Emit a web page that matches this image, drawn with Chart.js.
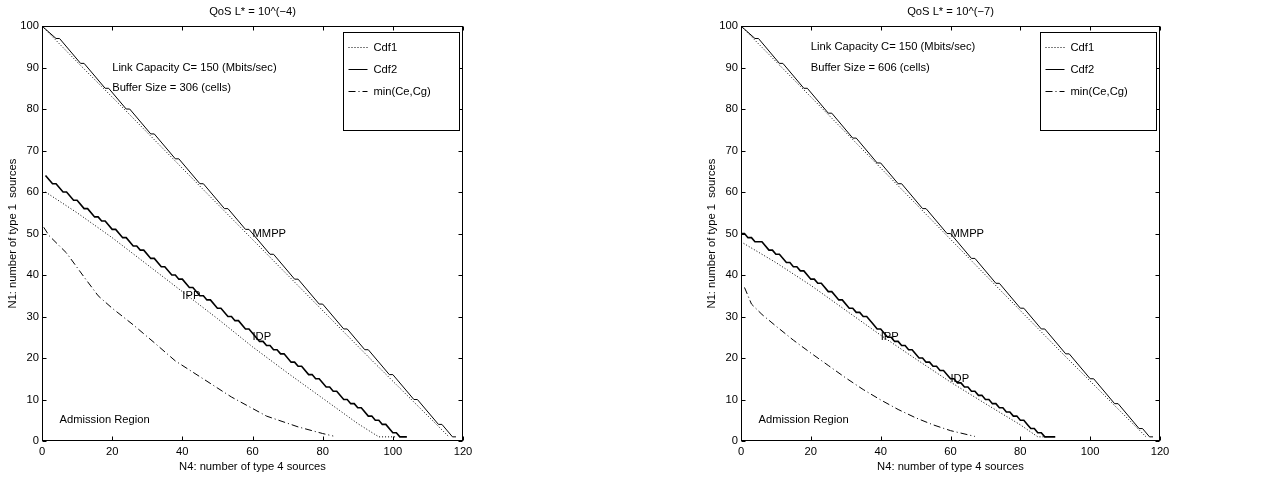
<!DOCTYPE html>
<html>
<head>
<meta charset="utf-8">
<title>Admission region</title>
<script src="https://cdn.jsdelivr.net/npm/chart.js@4.4.0/dist/chart.umd.min.js"></script>
<style>
    html, body { margin: 0; padding: 0; background: #fff; }
    #wrap { position: relative; width: 1281px; height: 480px; overflow: hidden; }
    #chartL { position: absolute; left: 0; top: 0; }
    #chartR { position: absolute; left: 640px; top: 0; }
</style>
</head>
<body>
<div id="wrap">
    <canvas id="chartL" width="640" height="480"></canvas>
    <canvas id="chartR" width="641" height="480"></canvas>
</div>
<script>
(function() {
    'use strict';

    // Axis ticks
    const n4Ticks = [0, 20, 40, 60, 80, 100, 120];
    const n1Ticks = [0, 10, 20, 30, 40, 50, 60, 70, 80, 90, 100];

    const legendLabels = ['Cdf1', 'Cdf2', 'min(Ce,Cg)'];

    // ---- QoS L* = 10^(-4), buffer 306 cells: [N4, N1] points ----
    const mmppCdf1A = [[0, 100], [11, 90.5], [24, 79.5], [47, 59.7], [70, 40], [93, 20.3], [116, 1]];
    const mmppCdf2A = [[0, 100], [4, 97], [5, 97], [11, 91], [12, 91], [18, 85], [19, 85], [24, 80], [25, 80],
        [31, 74], [32, 74], [38, 68], [39, 68], [45, 62], [46, 62], [52, 56], [53, 56], [58, 51], [59, 51],
        [65, 45], [66, 45], [72, 39], [73, 39], [79, 33], [80, 33], [86, 27], [87, 27], [92, 22], [93, 22],
        [99, 16], [100, 16], [106, 10], [107, 10], [113, 4], [114, 4], [117, 1], [118, 1]];
    const ippCdf1A = [[1, 60], [10, 55], [20, 49], [30, 42.5], [40, 36], [50, 29.5], [60, 22.7], [70, 16.4],
        [80, 10.3], [90, 4.2], [96, 1], [101, 1]];
    const ippCdf2A = [[1, 64], [3, 62], [4, 62], [6, 60], [7, 60], [9, 58], [10, 58], [12, 56], [13, 56],
        [15, 54], [16, 54], [17, 53], [18, 53], [20, 51], [21, 51], [23, 49], [24, 49], [26, 47], [27, 47],
        [28, 46], [29, 46], [31, 44], [32, 44], [34, 42], [35, 42], [37, 40], [38, 40], [39, 39], [40, 39],
        [42, 37], [43, 37], [45, 35], [46, 35], [47, 34], [48, 34], [50, 32], [51, 32], [53, 30], [54, 30],
        [55, 29], [56, 29], [58, 27], [59, 27], [62, 24], [63, 24], [64, 23], [65, 23], [66, 22], [67, 22],
        [68, 21], [69, 21], [71, 19], [72, 19], [73, 18], [74, 18], [76, 16], [77, 16], [78, 15], [79, 15],
        [81, 13], [82, 13], [83, 12], [84, 12], [86, 10], [87, 10], [88, 9], [89, 9], [90, 8], [91, 8],
        [93, 6], [94, 6], [95, 5], [96, 5], [97, 4], [98, 4], [100, 2], [101, 2], [102, 1], [104, 1]];
    const minCeCgA = [[0.5, 51.5], [2, 49.5], [7, 45.3], [12, 39.5], [16, 35], [20, 32], [26, 28], [32, 23.7],
        [38, 19.3], [45, 15.5], [54, 10.6], [64, 6], [73, 3.4], [80, 1.8], [83, 1.2]];

    // ---- QoS L* = 10^(-7), buffer 606 cells ----
    const mmppCdf1B = [[0, 100], [11, 90.6], [24, 79.5], [47, 59.8], [70, 40], [93, 20.3], [116, 1]];
    const mmppCdf2B = [[0, 100], [4, 97], [5, 97], [11, 91], [12, 91], [18, 85], [19, 85], [25, 79], [26, 79],
        [32, 73], [33, 73], [39, 67], [40, 67], [45, 62], [46, 62], [52, 56], [53, 56], [59, 50], [60, 50],
        [66, 44], [67, 44], [73, 38], [74, 38], [80, 32], [81, 32], [86, 27], [87, 27], [93, 21], [94, 21],
        [100, 15], [101, 15], [107, 9], [108, 9], [114, 3], [115, 3], [117, 1], [118, 1]];
    const ippCdf1B = [[0, 48], [10, 43], [20, 37.5], [30, 31.5], [40, 25.5], [50, 19.8], [60, 14.2], [70, 9],
        [80, 3.9], [85, 1], [88, 1]];
    const ippCdf2B = [[0, 50], [1, 50], [2, 49], [3, 49], [4, 48], [6, 48], [8, 46], [9, 46], [10, 45], [11, 45],
        [13, 43], [14, 43], [15, 42], [16, 42], [17, 41], [18, 41], [20, 39], [21, 39], [22, 38], [23, 38],
        [25, 36], [26, 36], [27, 35], [28, 34], [29, 34], [31, 32], [32, 32], [33, 31], [34, 31], [35, 30],
        [36, 30], [38, 28], [39, 27], [40, 27], [42, 25], [43, 25], [44, 24], [45, 24], [46, 23], [47, 23],
        [48, 22], [49, 22], [51, 20], [52, 20], [53, 19], [54, 19], [55, 18], [56, 18], [57, 17], [58, 17],
        [60, 15], [61, 15], [62, 14], [63, 14], [64, 13], [65, 13], [66, 12], [67, 12], [68, 11], [69, 11],
        [70, 10], [71, 10], [72, 9], [73, 9], [74, 8], [75, 8], [76, 7], [77, 7], [78, 6], [79, 6], [80, 5],
        [81, 5], [82, 4], [83, 3], [84, 3], [85, 2], [86, 2], [87, 1], [90, 1]];
    const minCeCgB = [[1, 37], [3, 33], [6, 30.5], [10, 27.7], [15, 24.3], [20, 21.2], [25, 18.2], [30, 15.2],
        [35, 12.4], [40, 9.9], [45, 7.6], [50, 5.6], [55, 3.9], [60, 2.5], [67, 1.1]];

    // Text placed in data coordinates
    const notesA = [
        { text: 'Link Capacity C= 150 (Mbits/sec)', x: 20, y: 90 },
        { text: 'Buffer Size = 306 (cells)', x: 20, y: 85 },
        { text: 'MMPP', x: 60, y: 50 },
        { text: 'IPP', x: 40, y: 35 },
        { text: 'IDP', x: 60, y: 25 },
        { text: 'Admission Region', x: 5, y: 5 }
    ];
    const notesB = [
        { text: 'Link Capacity C= 150 (Mbits/sec)', x: 20, y: 95 },
        { text: 'Buffer Size = 606 (cells)', x: 20, y: 90 },
        { text: 'MMPP', x: 60, y: 50 },
        { text: 'IPP', x: 40, y: 25 },
        { text: 'IDP', x: 60, y: 15 },
        { text: 'Admission Region', x: 5, y: 5 }
    ];

    const FONT = '"Liberation Sans", Arial, Helvetica, sans-serif';
    const FONT_SIZE = 11.2;
    const DOT = [1, 2];
    const DASH_DOT = [7, 3, 1, 3];

    /**
     * Box, inward ticks on all four sides, text notes and the legend
     */
    const matlabAxes = {
        id: 'matlabAxes',
        afterDatasetsDraw(chart, args, opts) {
            const { ctx, chartArea: a, scales: { x, y } } = chart;
            const L = Math.round(a.left) + 0.5, R = Math.round(a.right) - 0.5;
            const T = Math.round(a.top) + 0.5, B = Math.round(a.bottom) - 0.5;
            const tick = 4;

            ctx.save();
            ctx.strokeStyle = '#000';
            ctx.lineWidth = 1;
            ctx.setLineDash([]);
            ctx.strokeRect(L, T, R - L, B - T);

            ctx.beginPath();
            n4Ticks.forEach(v => {
                const px = Math.round(x.getPixelForValue(v)) + 0.5;
                ctx.moveTo(px, B); ctx.lineTo(px, B - tick);
                ctx.moveTo(px, T); ctx.lineTo(px, T + tick);
            });
            n1Ticks.forEach(v => {
                const py = Math.round(y.getPixelForValue(v)) + 0.5;
                ctx.moveTo(L, py); ctx.lineTo(L + tick, py);
                ctx.moveTo(R, py); ctx.lineTo(R - tick, py);
            });
            ctx.stroke();

            // annotations
            ctx.font = FONT_SIZE + 'px ' + FONT;
            ctx.fillStyle = '#000';
            ctx.textAlign = 'left';
            ctx.textBaseline = 'middle';
            opts.notes.forEach(n => {
                ctx.fillText(n.text, x.getPixelForValue(n.x), y.getPixelForValue(n.y));
            });

            // legend box in the upper right corner
            const bw = 116, bh = 98;
            const bx = Math.round(a.right) - 4 - bw + 0.5;
            const by = Math.round(a.top) + 6 + 0.5;
            ctx.fillStyle = '#fff';
            ctx.fillRect(bx, by, bw, bh);
            ctx.strokeRect(bx, by, bw, bh);

            const styles = [DOT, [], DASH_DOT];
            styles.forEach((dash, i) => {
                const ly = Math.round(by + 14 + i * 22) + 0.5;
                ctx.beginPath();
                ctx.setLineDash(dash);
                ctx.moveTo(bx + 5, ly);
                ctx.lineTo(bx + 24, ly);
                ctx.stroke();
                ctx.setLineDash([]);
                ctx.fillStyle = '#000';
                ctx.fillText(legendLabels[i], bx + 30, ly);
            });
            ctx.restore();
        }
    };

    function line(data, dash, width) {
        return {
            data: data,
            borderColor: '#000',
            borderWidth: width || 1,
            borderDash: dash || [],
            pointRadius: 0,
            tension: 0,
            fill: false
        };
    }

    function makeChart(canvasId, title, sets, notes, padLeft, padRight) {
        return new Chart(document.getElementById(canvasId), {
            type: 'line',
            data: { datasets: sets },
            options: {
                responsive: false,
                animation: false,
                layout: { padding: { left: padLeft, right: padRight, top: 0, bottom: 0 } },
                plugins: {
                    legend: { display: false },
                    tooltip: { enabled: false },
                    title: {
                        display: true,
                        text: title,
                        fullSize: false,
                        color: '#000',
                        font: { family: FONT, size: FONT_SIZE, weight: 'normal' },
                        padding: { top: 5, bottom: 7.6 }
                    },
                    matlabAxes: { notes: notes }
                },
                scales: {
                    x: {
                        type: 'linear',
                        min: 0,
                        max: 120,
                        afterBuildTicks: s => { s.ticks = n4Ticks.map(v => ({ value: v })); },
                        afterFit: s => { s.height = 39; },
                        grid: { display: false, drawTicks: false },
                        border: { display: false },
                        ticks: { color: '#000', padding: 4, maxRotation: 0, font: { family: FONT, size: FONT_SIZE } },
                        title: {
                            display: true,
                            text: 'N4: number of type 4 sources',
                            color: '#000',
                            font: { family: FONT, size: FONT_SIZE },
                            padding: { top: 0, bottom: 6.3 }
                        }
                    },
                    y: {
                        type: 'linear',
                        min: 0,
                        max: 100,
                        afterBuildTicks: s => { s.ticks = n1Ticks.map(v => ({ value: v })); },
                        afterFit: s => { s.width = 42; },
                        grid: { display: false, drawTicks: false },
                        border: { display: false },
                        ticks: { color: '#000', padding: 3, font: { family: FONT, size: FONT_SIZE } },
                        title: {
                            display: true,
                            text: 'N1: number of type 1  sources',
                            color: '#000',
                            font: { family: FONT, size: FONT_SIZE },
                            padding: { top: 6.3, bottom: 0 }
                        }
                    }
                }
            },
            plugins: [matlabAxes]
        });
    }

    makeChart('chartL', 'QoS L* = 10^(\u22124)', [
        line(mmppCdf1A, DOT),
        line(mmppCdf2A),
        line(ippCdf1A, DOT),
        line(ippCdf2A, [], 1.6),
        line(minCeCgA, DASH_DOT)
    ], notesA, 0, 177);

    makeChart('chartR', 'QoS L* = 10^(\u22127)', [
        line(mmppCdf1B, DOT),
        line(mmppCdf2B),
        line(ippCdf1B, DOT),
        line(ippCdf2B, [], 1.6),
        line(minCeCgB, DASH_DOT)
    ], notesB, 59, 121);
})();
</script>
</body>
</html>
